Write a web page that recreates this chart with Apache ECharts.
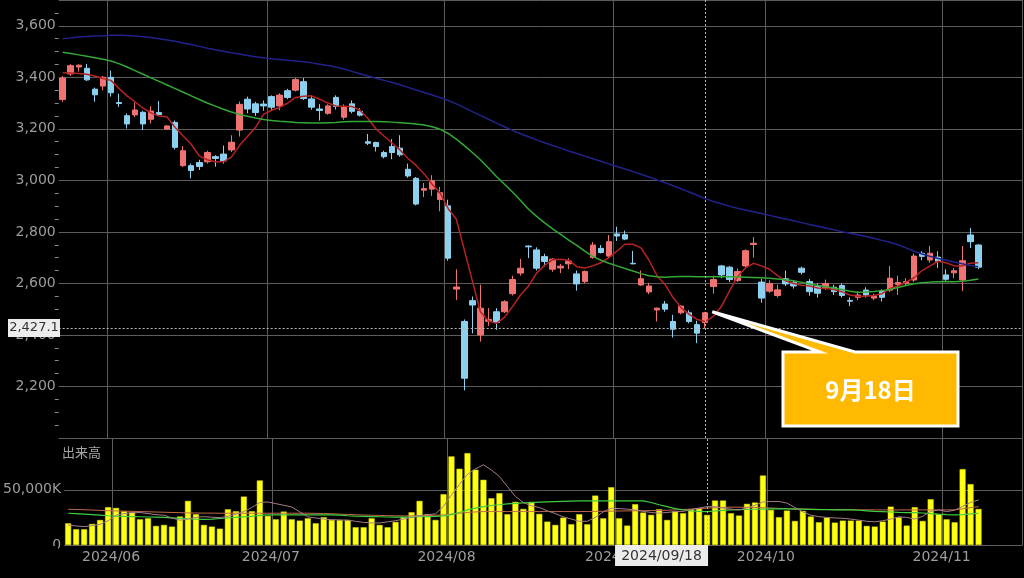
<!DOCTYPE html>
<html>
<head>
<meta charset="utf-8">
<script src="https://cdn.jsdelivr.net/npm/echarts@6/dist/echarts.min.js"></script>
<style>
html,body{margin:0;padding:0;background:#000;}
#c{width:1024px;height:578px;}
</style>
</head>
<body>
<div id="c"></div>
<script>
// ---- categories (trading days) ----
const dates = [
 "2024/05/24","2024/05/27","2024/05/28","2024/05/29","2024/05/30","2024/05/31",
 "2024/06/03","2024/06/04","2024/06/05","2024/06/06","2024/06/07","2024/06/10","2024/06/11","2024/06/12","2024/06/13","2024/06/14",
 "2024/06/17","2024/06/18","2024/06/19","2024/06/20","2024/06/21","2024/06/24","2024/06/25","2024/06/26","2024/06/27","2024/06/28",
 "2024/07/01","2024/07/02","2024/07/03","2024/07/04","2024/07/05","2024/07/08","2024/07/09","2024/07/10","2024/07/11","2024/07/12",
 "2024/07/16","2024/07/17","2024/07/18","2024/07/19","2024/07/22","2024/07/23","2024/07/24","2024/07/25","2024/07/26","2024/07/29","2024/07/30","2024/07/31",
 "2024/08/01","2024/08/02","2024/08/05","2024/08/06","2024/08/07","2024/08/08","2024/08/09","2024/08/13","2024/08/14","2024/08/15","2024/08/16",
 "2024/08/19","2024/08/20","2024/08/21","2024/08/22","2024/08/23","2024/08/26","2024/08/27","2024/08/28","2024/08/29","2024/08/30",
 "2024/09/02","2024/09/03","2024/09/04","2024/09/05","2024/09/06","2024/09/09","2024/09/10","2024/09/11","2024/09/12","2024/09/13",
 "2024/09/17","2024/09/18","2024/09/19","2024/09/20","2024/09/24","2024/09/25","2024/09/26","2024/09/27","2024/09/30",
 "2024/10/01","2024/10/02","2024/10/03","2024/10/04","2024/10/07","2024/10/08","2024/10/09","2024/10/10","2024/10/11",
 "2024/10/15","2024/10/16","2024/10/17","2024/10/18","2024/10/21","2024/10/22","2024/10/23","2024/10/24","2024/10/25",
 "2024/10/28","2024/10/29","2024/10/30","2024/10/31",
 "2024/11/01","2024/11/05","2024/11/06","2024/11/07","2024/11/08",
 "2024/11/11","2024/11/12","2024/11/13","2024/11/14","2024/11/15"
];

// ---- price (OHLC) ----
const open = [3314,3413,3440,3435,3354,3366,3400,3302,3251,3254,3264,3237,3263,3199,3225,3057,3057,3069,3072,3092,
 3102,3118,3195,3315,3297,3296,3325,3289,3348,3350,3383,3316,3277,3260,3322,3245,3297,3268,3150,3147,
 3108,3131,3125,3043,3008,2962,2966,2926,2901,2578,2452,2533,2400,2453,2490,2490,2560,2640,2745,2730,
 2704,2655,2660,2676,2637,2607,2701,2736,2706,2792,2789,2678,2594,2567,2497,2520,2452,2486,2486,2440,
 2448,2588,2668,2663,2611,2668,2751,2605,2570,2553,2618,2604,2659,2607,2590,2582,2585,2592,2534,2546,
 2574,2543,2572,2574,2596,2600,2613,2717,2691,2702,2633,2641,2613,2788,2749];
const close = [3397,3445,3447,3390,3332,3400,3340,3298,3219,3273,3219,3269,3255,3211,3128,3115,3038,3054,3108,3085,
 3075,3148,3295,3277,3263,3289,3284,3331,3322,3391,3318,3284,3271,3289,3287,3286,3268,3253,3144,3131,
 3092,3108,3099,3017,2908,2968,2998,2952,2698,2586,2232,2516,2504,2460,2448,2529,2615,2659,2742,2659,
 2685,2694,2667,2687,2598,2646,2749,2720,2762,2784,2772,2676,2618,2590,2504,2500,2422,2512,2452,2407,
 2486,2615,2633,2615,2646,2727,2756,2543,2600,2575,2598,2590,2643,2568,2562,2600,2568,2553,2531,2555,
 2555,2551,2546,2620,2604,2607,2706,2705,2717,2686,2616,2649,2688,2762,2663];
const low = [3305,3405,3422,3386,3305,3350,3325,3285,3201,3245,3195,3221,3250,3196,3120,3052,3008,3040,3065,3053,
 3065,3110,3170,3260,3250,3270,3270,3272,3315,3345,3312,3274,3232,3255,3275,3235,3260,3248,3137,3112,
 3085,3082,3092,3010,2903,2935,2940,2880,2688,2536,2185,2406,2374,2435,2420,2485,2553,2630,2698,2650,
 2665,2645,2640,2655,2572,2600,2696,2716,2698,2765,2768,2674,2590,2558,2452,2490,2390,2480,2445,2368,
 2427.1,2560,2620,2605,2605,2662,2700,2525,2563,2545,2590,2580,2635,2552,2545,2575,2555,2545,2512,2535,
 2545,2535,2530,2567,2555,2590,2605,2690,2680,2660,2610,2620,2570,2737,2655];
const high = [3405,3451,3450,3452,3360,3405,3426,3336,3260,3302,3270,3288,3308,3214,3232,3133,3065,3080,3115,3098,
 3135,3175,3306,3325,3305,3310,3330,3338,3355,3398,3397,3330,3296,3295,3330,3295,3310,3280,3180,3150,
 3115,3160,3175,3065,3013,2990,3020,2975,2925,2655,2460,2549,2595,2504,2504,2535,2630,2695,2747,2740,
 2715,2698,2675,2698,2650,2650,2761,2749,2788,2820,2805,2726,2650,2602,2506,2532,2478,2516,2496,2455,
 2490,2630,2672,2668,2658,2732,2780,2618,2612,2595,2650,2612,2665,2617,2600,2615,2595,2600,2546,2570,
 2585,2560,2577,2668,2630,2620,2716,2725,2745,2725,2655,2660,2745,2815,2752];

// ---- price moving averages ----
const ma5 = [3418,3417,3415,3412,3405,3395,3388,3357,3328,3305,3280,3262,3250,3246,3205,3172,3140,3095,3080,3072,
 3072,3090,3135,3170,3205,3256,3272,3283,3300,3322,3326,3328,3315,3300,3289,3288,3287,3272,3240,3200,
 3172,3145,3118,3085,3058,3025,2985,2950,2890,2850,2730,2610,2490,2455,2445,2468,2510,2555,2590,2640,
 2670,2692,2694,2690,2665,2660,2668,2680,2700,2725,2752,2752,2738,2690,2630,2595,2545,2505,2480,2460,
 2452,2472,2510,2570,2625,2660,2678,2668,2655,2630,2610,2600,2593,2590,2582,2580,2576,2568,2555,2550,
 2550,2553,2560,2580,2590,2605,2622,2650,2668,2686,2680,2668,2668,2678,2680];
const ma25 = [3497,3492,3487,3482,3476,3470,3463,3453,3440,3426,3412,3398,3384,3370,3356,3342,3328,3314,3300,3288,
 3276,3265,3256,3249,3242,3236,3232,3229,3227,3225,3224,3223,3223,3224,3225,3227,3228,3228,3228,3228,
 3227,3226,3224,3222,3219,3215,3208,3198,3182,3160,3135,3108,3080,3048,3015,2985,2955,2922,2888,2860,
 2835,2812,2790,2768,2748,2725,2705,2690,2678,2668,2658,2648,2638,2630,2626,2624,2626,2627,2627,2626,
 2626,2626,2626,2626,2625,2624,2623,2622,2620,2617,2614,2610,2604,2598,2592,2587,2582,2576,2570,2566,
 2567,2569,2572,2576,2584,2592,2599,2603,2605,2606,2607,2606,2608,2612,2617];
const ma75 = [3550,3553,3556,3558,3560,3561,3563,3563,3562,3560,3557,3554,3550,3545,3540,3533,3527,3520,3513,3507,
 3501,3495,3490,3485,3480,3476,3472,3469,3466,3463,3460,3456,3451,3446,3440,3432,3423,3414,3405,3396,
 3388,3380,3371,3361,3351,3341,3331,3321,3310,3297,3282,3267,3252,3237,3222,3208,3194,3181,3169,3157,
 3146,3135,3125,3114,3104,3094,3084,3074,3064,3054,3044,3034,3024,3013,3002,2991,2979,2967,2955,2942,
 2929,2918,2909,2900,2892,2885,2878,2871,2864,2857,2850,2843,2836,2829,2822,2815,2808,2801,2795,2789,
 2782,2775,2767,2760,2750,2738,2725,2714,2705,2697,2690,2683,2676,2670,2665];

// ---- volume (thousand shares, "K") ----
const volume = [19700,14300,14300,19100,22700,34300,33600,30600,29400,23300,24200,17300,18200,16700,25800,40000,27900,18200,16700,14800,
 32400,30600,43900,30600,58500,26400,23300,30300,23300,22100,24200,19700,25200,22700,22700,22700,16100,16100,24200,18200,
 16100,20900,25200,29700,40000,27900,22700,46100,80300,69100,83300,68200,59100,42400,47000,27900,39100,32700,39100,28200,
 21200,18200,24800,18800,27900,18800,44800,24200,52400,24200,17600,37000,29400,27300,32400,22700,30300,28800,32400,33000,
 27300,40300,40300,28800,26700,37300,38500,63000,31800,25200,31200,21800,30900,25800,20600,24800,20300,22100,22100,22100,
 17300,16700,21200,34800,25200,17600,34300,21800,41500,27900,23300,20600,68800,55200,32700];
const volMaShort = [18200,17200,16700,17500,18700,22000,27000,28500,29400,29400,28500,27500,27000,24500,22500,23500,25000,25700,25200,24800,
 26000,28000,30300,34000,38500,39000,37500,36000,34500,30000,25500,24500,23500,23000,22700,22500,21500,20500,20000,20000,
 21000,22000,23500,25000,26700,27500,28200,35000,45500,55000,64000,69000,72700,68000,62100,53000,44000,38500,35500,34000,
 31000,28500,25500,23500,21500,21500,25000,30000,33400,33000,32500,31800,30500,29500,28800,29500,30300,30500,32000,33500,
 34800,34800,33500,32500,31800,33500,36000,39000,39400,39400,38000,34000,30000,27000,25700,25000,24500,24200,23500,22500,
 21500,21000,22000,23500,25500,25000,23500,26000,30500,31800,30300,31500,35000,38500,40900];
const volMaMid = [28800,28500,28000,27500,27000,26500,26200,26000,25800,25600,25400,25200,25000,24600,24200,23800,23500,23300,23500,24000,
 24500,25000,25500,26000,26800,27300,27300,27300,27300,27300,27300,27300,27300,27300,27000,26500,26200,26000,25800,25600,
 25400,25200,25200,25300,25600,25800,26000,26400,27500,29500,31800,33500,34800,35800,36500,37300,37800,38200,38500,38800,
 39100,39400,39600,39800,40000,40000,40000,40000,40000,40000,40000,40000,40000,38500,36500,34800,33000,31800,31000,30500,
 30300,30800,31300,31800,32000,32200,32400,32600,32700,32700,32700,32600,32500,32300,32100,32000,31900,31800,31800,31500,
 31000,30500,30200,29900,29600,29400,29400,29000,28500,28000,27600,27300,27500,28200,28800];
const volMaLong = [32400,32200,32000,31700,31400,31100,30900,30700,30500,30300,30100,29900,29700,29500,29300,29100,29000,28900,28900,28800,
 28800,28800,28800,28800,28800,28800,28800,28800,28800,28800,28800,28700,28500,28300,28000,27700,27400,27200,27000,26800,
 26600,26500,26400,26400,26500,26700,27000,27300,28000,28800,29500,30000,30300,30300,30300,30300,30300,30300,30300,30300,
 30300,30300,30300,30300,30300,30400,30500,30600,30700,30800,30900,31000,31100,31200,31300,31500,31800,32200,32600,33000,
 33400,33800,34100,34300,34300,34200,34000,33800,33500,33200,33000,32800,32600,32400,32300,32200,32100,32000,32000,31900,
 31900,31800,31800,31800,31800,31800,31800,31800,31800,31800,31800,31900,32800,33800,34800];

// ---- axis ticks / annotation values ----
const priceTicks = {min: 2000, max: 3700, interval: 200};
const volumeTicks = {min: 0, max: 97000, interval: 50000};
const markDate = "2024/09/18";
const crossPrice = 2427.1;
const calloutText = "9月18日";
const volumeTitle = "出来高";

// month-start indices (gridlines + labels)
const monthStart = new Set();
for (let i = 1; i < dates.length; i++) {
  if (dates[i].slice(0, 7) !== dates[i - 1].slice(0, 7)) monthStart.add(i);
}

const FONT = '"DejaVu Sans", Verdana, sans-serif';
const GRID_C = '#5c5c5c';
const LABEL_C = '#9d9d9d';
const UP = '#f07373', DOWN = '#8dd1f0';

const chart = echarts.init(document.getElementById('c'), null, {renderer: 'canvas'});

const crossLineStyle = {type: [2, 2], color: '#b8b8b8', width: 1};

const option = {
  backgroundColor: '#000',
  animation: false,
  textStyle: {fontFamily: FONT},
  grid: [
    {left: 58.7, right: 1.5, top: 0, height: 438},
    {left: 58.7, right: 1.5, top: 438, height: 107}
  ],
  xAxis: [
    {
      type: 'category', gridIndex: 0, data: dates, boundaryGap: true,
      axisLine: {show: false}, axisTick: {show: false}, axisLabel: {show: false},
      splitLine: {show: true, interval: (i) => monthStart.has(i), lineStyle: {color: GRID_C, width: 1}}
    },
    {
      type: 'category', gridIndex: 1, data: dates, boundaryGap: true,
      axisLine: {show: false}, axisTick: {show: false},
      axisLabel: {
        interval: (i) => monthStart.has(i), formatter: (v) => v.slice(0, 7),
        color: LABEL_C, fontSize: 14, fontFamily: FONT, margin: 5, padding: [0, 10, 0, 0]
      },
      splitLine: {show: true, interval: (i) => monthStart.has(i), lineStyle: {color: GRID_C, width: 1}}
    }
  ],
  yAxis: [
    {
      type: 'value', gridIndex: 0, min: priceTicks.min, max: priceTicks.max, interval: priceTicks.interval,
      axisLine: {show: false},
      axisTick: {show: false},
      minorTick: {show: true, splitNumber: 4, length: 4, lineStyle: {color: '#8a8a8a', width: 1}},
      axisLabel: {
        color: LABEL_C, fontSize: 14, fontFamily: FONT, margin: 3,
        showMinLabel: false, showMaxLabel: false,
        formatter: (v) => v.toLocaleString('en-US')
      },
      splitLine: {show: true, lineStyle: {color: GRID_C, width: 1}}
    },
    {
      type: 'value', gridIndex: 1, min: volumeTicks.min, max: volumeTicks.max, interval: volumeTicks.interval,
      axisLine: {show: false}, axisTick: {show: false},
      axisLabel: {
        color: LABEL_C, fontSize: 14, fontFamily: FONT, margin: 3, showMaxLabel: false,
        formatter: (v) => v === 0 ? '0' : v.toLocaleString('en-US') + 'K'
      },
      splitLine: {show: true, lineStyle: {color: GRID_C, width: 1}}
    }
  ],
  series: [
    {
      name: 'price', type: 'candlestick', xAxisIndex: 0, yAxisIndex: 0, barWidth: 6, z: 3,
      data: open.map((o, i) => [o, close[i], low[i], high[i]]),
      itemStyle: {color: UP, color0: DOWN, borderColor: UP, borderColor0: DOWN, borderWidth: 1},
      markLine: {
        silent: true, symbol: 'none', animation: false,
        label: {show: false},
        lineStyle: crossLineStyle,
        data: [{xAxis: markDate}, {yAxis: crossPrice}]
      }
    },
    {name: 'MA5', type: 'line', xAxisIndex: 0, yAxisIndex: 0, data: ma5, showSymbol: false, z: 4,
     lineStyle: {color: '#b82222', width: 1.5}},
    {name: 'MA25', type: 'line', xAxisIndex: 0, yAxisIndex: 0, data: ma25, showSymbol: false, z: 4,
     lineStyle: {color: '#34a834', width: 1.5}},
    {name: 'MA75', type: 'line', xAxisIndex: 0, yAxisIndex: 0, data: ma75, showSymbol: false, z: 4,
     lineStyle: {color: '#22228c', width: 1.5}},
    {
      name: 'volume', type: 'bar', xAxisIndex: 1, yAxisIndex: 1, data: volume, barWidth: 6, z: 3,
      itemStyle: {color: '#ffff14', borderColor: '#d9d900', borderWidth: 0.5},
      markLine: {
        silent: true, symbol: 'none', animation: false,
        label: {show: false},
        lineStyle: crossLineStyle,
        data: [{xAxis: markDate}]
      }
    },
    {name: 'VMA-long', type: 'line', xAxisIndex: 1, yAxisIndex: 1, data: volMaLong, showSymbol: false, z: 4,
     lineStyle: {color: '#c06a4c', width: 1}},
    {name: 'VMA-mid', type: 'line', xAxisIndex: 1, yAxisIndex: 1, data: volMaMid, showSymbol: false, z: 4,
     lineStyle: {color: '#3fcf3f', width: 1.2}},
    {name: 'VMA-short', type: 'line', xAxisIndex: 1, yAxisIndex: 1, data: volMaShort, showSymbol: false, z: 4,
     lineStyle: {color: '#a67c8c', width: 1}}
  ]
};

chart.setOption(option);

// ---- annotations positioned from the data through the axes ----
const mi = dates.indexOf(markDate);
const cx = chart.convertToPixel({xAxisIndex: 1}, mi);
const hy = chart.convertToPixel({yAxisIndex: 0}, crossPrice);
const volBase = chart.convertToPixel({yAxisIndex: 1}, 0);
const tip = chart.convertToPixel({gridIndex: 0}, [mi, close[mi]]);
const tipX = tip[0] + 7, tipY = tip[1] - 1;

const bx0 = 783, by0 = 352, bx1 = 958, by1 = 426;

chart.setOption({
  graphic: [
    // partly hide the "0" volume label as in the reference
    {type: 'rect', z: 50, shape: {x: 0, y: volBase + 1, width: 58, height: 40}, style: {fill: '#000'}},
    {type: 'text', z: 50, x: 62, y: 446,
     style: {text: volumeTitle, fill: '#a5a5a5', font: '13px "Noto Sans CJK JP"'}},
    // crosshair price label
    {type: 'rect', z: 60, shape: {x: 8, y: hy - 9, width: 52, height: 18}, style: {fill: '#ececec'}},
    {type: 'text', z: 61, x: 34, y: hy,
     style: {text: crossPrice.toLocaleString('en-US', {minimumFractionDigits: 1}), fill: '#333',
             font: '13px "DejaVu Sans"', align: 'center', verticalAlign: 'middle'}},
    // crosshair date label
    {type: 'rect', z: 60, shape: {x: cx - 92, y: volBase, width: 93, height: 21}, style: {fill: '#ececec'}},
    {type: 'text', z: 61, x: cx - 45.5, y: volBase + 11,
     style: {text: markDate, fill: '#333', font: '14px "DejaVu Sans"', align: 'center', verticalAlign: 'middle'}},
    // callout
    {type: 'polygon', z: 70,
     shape: {points: [[bx0, by0], [820, by0], [tipX, tipY], [855, by0], [bx1, by0], [bx1, by1], [bx0, by1]]},
     style: {fill: '#ffb900', stroke: '#ffffff', lineWidth: 3, lineJoin: 'miter'}},
    {type: 'text', z: 71, x: (bx0 + bx1) / 2, y: (by0 + by1) / 2 + 1,
     style: {text: calloutText, fill: '#ffffff', font: 'bold 24px "Noto Sans CJK JP"', align: 'center', verticalAlign: 'middle'}}
  ]
});
</script>
</body>
</html>
